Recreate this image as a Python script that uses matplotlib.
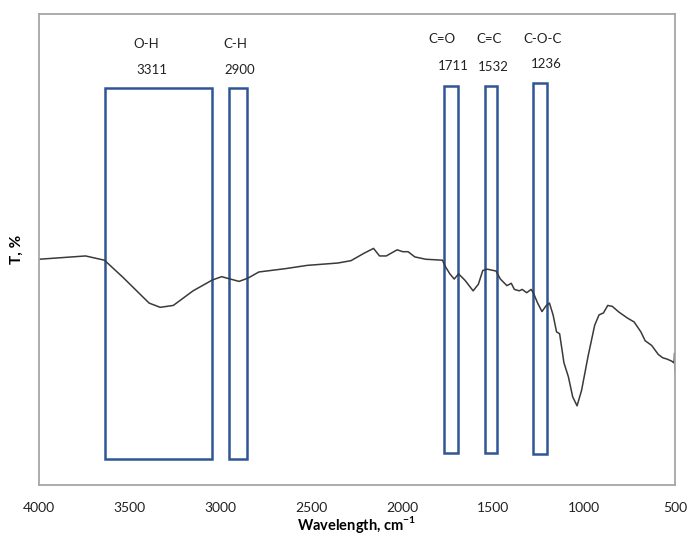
import matplotlib
matplotlib.use('Agg')
import matplotlib.pyplot as plt
import matplotlib.patches as mpatches

# ── spectrum (wavenumber cm-1, transmittance arbitrary %) ──
wavenumber = [4000, 3853, 3744, 3640, 3539, 3394, 3333, 3261, 3152, 3046,
              2995, 2947, 2899, 2850, 2790, 2645, 2524, 2355, 2283, 2210,
              2159, 2126, 2089, 2029, 1998, 1969, 1932, 1872, 1780, 1763,
              1739, 1715, 1691, 1655, 1611, 1582, 1558, 1534, 1485, 1461,
              1425, 1401, 1384, 1357, 1341, 1316, 1292, 1280, 1256, 1232,
              1208, 1191, 1171, 1152, 1135, 1111, 1087, 1063, 1039, 1014,
              978, 942, 918, 894, 870, 845, 809, 761, 725, 688,
              664, 628, 592, 568, 543, 519, 505, 502, 500]
transmittance = [47.9, 48.3, 48.6, 47.7, 44.1, 38.6, 37.7, 38.1, 41.2, 43.5,
                 44.2, 43.7, 43.2, 43.9, 45.2, 45.9, 46.6, 47.1, 47.6, 49.2,
                 50.2, 48.6, 48.6, 49.9, 49.5, 49.5, 48.4, 47.9, 47.7, 46.3,
                 44.8, 43.7, 44.8, 43.4, 41.2, 42.6, 45.5, 45.8, 45.4, 43.7,
                 42.3, 42.8, 41.5, 41.2, 41.5, 40.8, 41.5, 40.8, 38.6, 36.8,
                 38.1, 38.6, 36.1, 32.5, 32.1, 25.9, 23.0, 18.7, 16.8, 20.1,
                 27.4, 33.9, 36.1, 36.5, 38.1, 37.9, 36.7, 35.4, 34.6, 32.5,
                 30.6, 29.6, 27.7, 27.0, 26.7, 26.3, 25.9, 28.0, 24.0]

# ── band boxes ──
band_names = ['O-H', 'C-H', 'C=O', 'C=C', 'C-O-C']
band_peaks = ['3311', '2900', '1711', '1532', '1236']
band_hi    = [3637, 2954, 1771, 1544, 1279]
band_lo    = [3046, 2855, 1692, 1481, 1202]
band_top   = [84.2, 84.2, 84.7, 84.7, 85.4]
band_bot   = [5.6, 5.6, 6.7, 6.7, 6.5]

# label placement (wavenumber, T)
name_pos = [(3412, 93.5), (2920, 93.5), (1784, 94.7), (1525, 94.7), (1228, 94.7)]
peak_pos = [(3381, 88.0), (2896, 88.0), (1720, 89.0), (1498, 88.6), (1209, 89.3)]

BOX   = '#2f5597'
FRAME = '#a6a6a6'

plt.rcParams['font.family'] = ['Lato', 'DejaVu Sans']

fig = plt.figure(figsize=(6.89, 5.37), dpi=100)
ax = fig.add_axes([39/689, 1 - 485/537, 636/689, 471.3/537])

ax.plot(wavenumber, transmittance, color='#3a3a3a', lw=1.1)

for hi, lo, top, bot in zip(band_hi, band_lo, band_top, band_bot):
    ax.add_patch(mpatches.Rectangle((lo, bot), hi - lo, top - bot,
                                    fill=False, edgecolor=BOX, lw=1.8))

for name, peak, (nx, ny), (px, py) in zip(band_names, band_peaks, name_pos, peak_pos):
    ax.text(nx, ny, name, ha='center', va='center', fontsize=9.5, color='#222222')
    ax.text(px, py, peak, ha='center', va='center', fontsize=9.5, color='#222222')

ax.set_xlim(4000, 500)
ax.set_ylim(0, 100)
ax.set_xticks([4000, 3500, 3000, 2500, 2000, 1500, 1000, 500])
ax.set_yticks([])
ax.tick_params(axis='x', length=0, pad=12, labelsize=10, labelcolor='#222222')
for s in ax.spines.values():
    s.set_color(FRAME); s.set_linewidth(1.3)

ax.set_xlabel('Wavelength, cm$^{\\mathregular{-1}}$', fontsize=10.5, fontweight='bold', labelpad=0)
ax.set_ylabel('T, %', fontsize=11, fontweight='bold', labelpad=11)

fig.savefig('out.png', dpi=100, facecolor='white')
